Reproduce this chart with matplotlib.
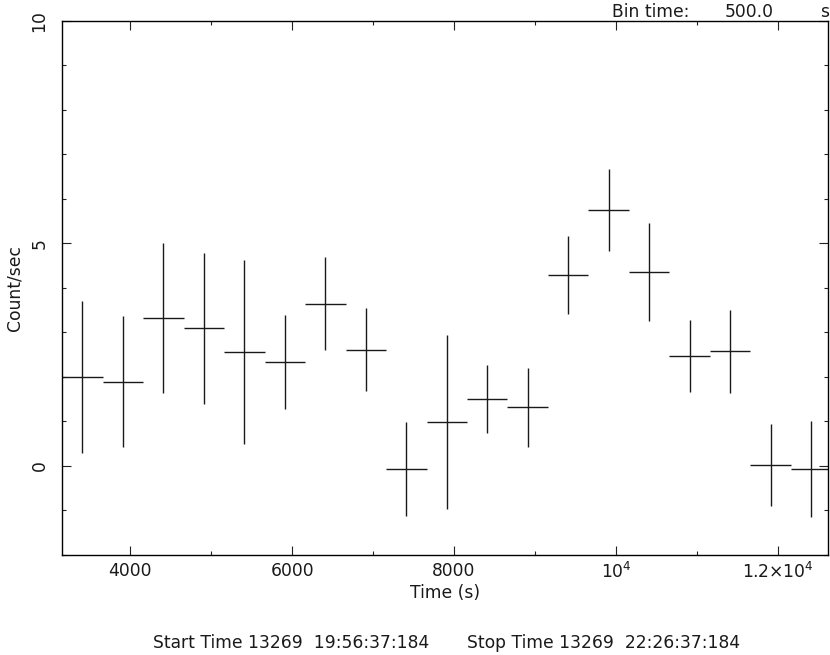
import matplotlib
matplotlib.use("Agg")
import matplotlib.pyplot as plt
from matplotlib.ticker import FixedLocator, MultipleLocator

# light curve, 500 s bins
time = [3410, 3910, 4410, 4910, 5410, 5910, 6410, 6910, 7410, 7910,
        8410, 8910, 9410, 9910, 10410, 10910, 11410, 11910, 12410]
rate = [2.00, 1.89, 3.33, 3.09, 2.56, 2.34, 3.65, 2.61, -0.07, 0.99,
        1.51, 1.32, 4.29, 5.75, 4.35, 2.47, 2.58, 0.02, -0.07]
rate_err = [1.71, 1.47, 1.69, 1.70, 2.07, 1.06, 1.05, 0.93, 1.06, 1.96,
            0.76, 0.89, 0.87, 0.92, 1.10, 0.80, 0.93, 0.93, 1.08]
half_bin = 250

xticks = [4000, 6000, 8000, 10000, 12000]
xtick_labels = ["4000", "6000", "8000", r"$10^4$", r"$1.2{\times}10^4$"]
yticks = [0, 5, 10]
ytick_labels = ["0", "5", "10"]


def main():
    plt.rcParams["font.family"] = "DejaVu Sans"
    plt.rcParams["mathtext.default"] = "regular"
    fs = 12.3
    tc = "#1a1a1a"

    fig = plt.figure(figsize=(8.3, 6.55), dpi=100)
    ax = fig.add_axes([0.0751, 0.1527, 0.9229, 0.8153])

    ax.errorbar(time, rate, xerr=half_bin, yerr=rate_err, fmt="none",
                ecolor="#1a1a1a", elinewidth=1.0, capsize=0)

    ax.set_xlim(3163, 12622)
    ax.set_ylim(-2, 10)

    ax.xaxis.set_major_locator(FixedLocator(xticks))
    ax.set_xticklabels(xtick_labels, fontsize=fs, color=tc)
    ax.xaxis.set_minor_locator(MultipleLocator(1000))
    ax.yaxis.set_major_locator(FixedLocator(yticks))
    ax.set_yticklabels(ytick_labels, fontsize=fs, rotation=90, va="center",
                       color=tc)
    ax.yaxis.set_minor_locator(MultipleLocator(1))

    ax.tick_params(which="both", direction="in", top=True, right=True,
                   width=0.8, color="#222222")
    ax.tick_params(which="major", length=6.2)
    ax.tick_params(which="minor", length=3.2)
    ax.tick_params(axis="x", which="major", pad=5)
    ax.tick_params(axis="y", which="major", pad=10)
    for s in ax.spines.values():
        s.set_linewidth(1.0)

    fig.text(445 / 830, 1 - 593 / 655, "Time (s)", ha="center",
             va="center", fontsize=fs, color=tc)
    fig.text(14 / 830, 1 - 288 / 655, "Count/sec", ha="center",
             va="center", rotation=90, fontsize=fs, color=tc)

    fig.text(612 / 830, 1 - 3 / 655, "Bin time:", ha="left", va="top",
             fontsize=fs, color=tc)
    fig.text(725 / 830, 1 - 3 / 655, "500.0", ha="left", va="top",
             fontsize=fs, color=tc)
    fig.text(820 / 830, 1 - 3 / 655, "s", ha="left", va="top", fontsize=fs,
             color=tc)

    fig.text(153 / 830, 1 - 643 / 655, "Start Time 13269  19:56:37:184",
             ha="left", va="center", fontsize=fs, color=tc)
    fig.text(467 / 830, 1 - 643 / 655, "Stop Time 13269  22:26:37:184",
             ha="left", va="center", fontsize=fs, color=tc)

    fig.savefig("out.png", dpi=100)


if __name__ == "__main__":
    main()
